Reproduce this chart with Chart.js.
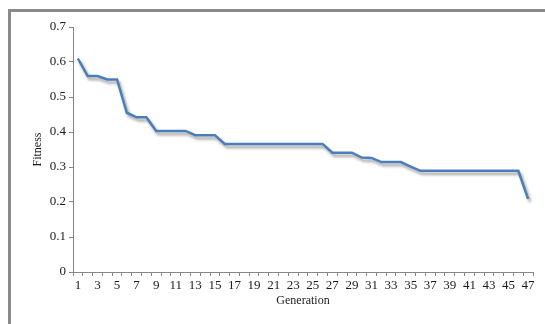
<!DOCTYPE html>
<html>
<head>
<meta charset="utf-8">
<script src="https://cdn.jsdelivr.net/npm/chart.js@4/dist/chart.umd.min.js"></script>
<style>
  html, body { margin: 0; padding: 0; background: #fff; }
  #wrap { width: 545px; height: 324px; position: relative; }
</style>
</head>
<body>
<div id="wrap"><canvas id="c" width="545" height="324"></canvas></div>
<script>
// Generation numbers 1..47
const generations = [
  1, 2, 3, 4, 5, 6, 7, 8, 9, 10,
  11, 12, 13, 14, 15, 16, 17, 18, 19, 20,
  21, 22, 23, 24, 25, 26, 27, 28, 29, 30,
  31, 32, 33, 34, 35, 36, 37, 38, 39, 40,
  41, 42, 43, 44, 45, 46, 47
];

// Best fitness per generation
const fitness = [
  0.61, 0.56, 0.56, 0.55, 0.55, 0.455, 0.442, 0.442, 0.403, 0.403,
  0.403, 0.403, 0.391, 0.391, 0.391, 0.366, 0.366, 0.366, 0.366, 0.366,
  0.366, 0.366, 0.366, 0.366, 0.366, 0.366, 0.341, 0.341, 0.341, 0.327,
  0.326, 0.314, 0.314, 0.314, 0.301, 0.289, 0.289, 0.289, 0.289, 0.289,
  0.289, 0.289, 0.289, 0.289, 0.289, 0.289, 0.209
];

const yTicks = [0, 0.1, 0.2, 0.3, 0.4, 0.5, 0.6, 0.7];

const axisGrey = '#868686';
const serif = "'Liberation Serif', 'Times New Roman', serif";

// Grey frame around the whole chart
const framePlugin = {
  id: 'frame',
  beforeDraw(chart) {
    const ctx = chart.ctx;
    ctx.save();
    ctx.fillStyle = '#ffffff';
    ctx.fillRect(0, 0, chart.width, chart.height);
    ctx.strokeStyle = '#8a8a8a';
    ctx.lineWidth = 3;
    ctx.strokeRect(9.5, 10.5, chart.width + 20, chart.height + 20);
    ctx.restore();
  }
};

// Soft drop shadow under the series line
const shadowPlugin = {
  id: 'lineShadow',
  beforeDatasetDraw(chart) {
    const ctx = chart.ctx;
    ctx.save();
    ctx.shadowColor = 'rgba(0,0,0,0.38)';
    ctx.shadowBlur = 3;
    ctx.shadowOffsetX = 2;
    ctx.shadowOffsetY = 3;
  },
  afterDatasetDraw(chart) {
    chart.ctx.restore();
  }
};

new Chart(document.getElementById('c'), {
  type: 'line',
  data: {
    labels: generations.map(String),
    datasets: [{
      data: fitness,
      borderColor: '#4a7ebb',
      borderWidth: 2.5,
      pointRadius: 0,
      pointHoverRadius: 0,
      tension: 0,
      fill: false
    }]
  },
  options: {
    responsive: false,
    animation: false,
    events: [],
    layout: { padding: { left: 31, top: 27, right: 12, bottom: 16 } },
    plugins: {
      legend: { display: false },
      tooltip: { enabled: false }
    },
    scales: {
      x: {
        type: 'category',
        offset: true,
        afterFit(scale) { scale.height = 36; },
        border: { color: axisGrey, width: 1 },
        grid: {
          offset: true,
          drawOnChartArea: false,
          drawTicks: true,
          tickLength: 4,
          color: axisGrey
        },
        ticks: {
          autoSkip: false,
          maxRotation: 0,
          padding: 2,
          color: '#1a1a1a',
          font: { family: serif, size: 13 },
          callback(value, index) {
            return index % 2 === 0 ? String(generations[index]) : '';
          }
        },
        title: {
          display: true,
          text: 'Generation',
          color: '#1a1a1a',
          padding: 0,
          font: { family: serif, size: 12 }
        }
      },
      y: {
        min: 0,
        max: 0.7,
        afterFit(scale) { scale.width = 42; },
        afterBuildTicks(scale) {
          scale.ticks = yTicks.map(v => ({ value: v }));
        },
        border: { color: axisGrey, width: 1 },
        grid: {
          drawOnChartArea: false,
          drawTicks: true,
          tickLength: 4,
          color: axisGrey
        },
        ticks: {
          padding: 3,
          color: '#1a1a1a',
          font: { family: serif, size: 13 },
          callback(value) {
            return value === 0 ? '0' : value.toFixed(1);
          }
        },
        title: {
          display: true,
          text: 'Fitness',
          color: '#1a1a1a',
          padding: 0,
          font: { family: serif, size: 12 }
        }
      }
    }
  },
  plugins: [framePlugin, shadowPlugin]
});
</script>
</body>
</html>
